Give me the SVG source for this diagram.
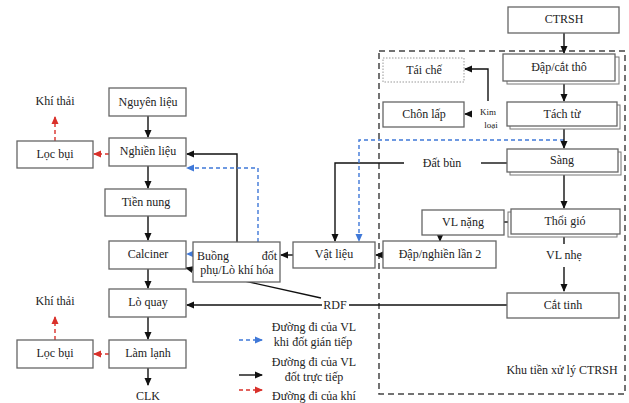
<svg xmlns="http://www.w3.org/2000/svg" width="629" height="403" viewBox="0 0 629 403" font-family="'Liberation Serif', 'DejaVu Serif', serif">
<defs>
<style>
text{font-family:'Liberation Serif','DejaVu Serif',serif;font-size:12px;fill:#222;text-anchor:middle;dominant-baseline:central}
.box{fill:#fff;stroke:#666;stroke-width:1.3}
.shadow{fill:#fff;stroke:#777;stroke-width:1}
.blk{fill:none;stroke:#111;stroke-width:1.4}
.blu{fill:none;stroke:#3f78d8;stroke-width:1.4;stroke-dasharray:4,3}
.red{fill:none;stroke:#d9302a;stroke-width:1.4;stroke-dasharray:4,3}
.small{font-size:9px}
</style>
<marker id="ab" markerWidth="8" markerHeight="8" refX="7" refY="4" orient="auto" markerUnits="userSpaceOnUse"><path d="M0,0.5 L8,4 L0,7.5 z" fill="#111"/></marker>
<marker id="au" markerWidth="8" markerHeight="8" refX="7" refY="4" orient="auto" markerUnits="userSpaceOnUse"><path d="M0,0.5 L8,4 L0,7.5 z" fill="#3f78d8"/></marker>
<marker id="ar" markerWidth="8" markerHeight="8" refX="7" refY="4" orient="auto" markerUnits="userSpaceOnUse"><path d="M0,0.5 L8,4 L0,7.5 z" fill="#d9302a"/></marker>
</defs>
<rect width="629" height="403" fill="#fff"/>

<g id="region">
<rect x="379" y="51" width="246" height="343" fill="none" stroke="#444" stroke-width="1.5" stroke-dasharray="6,4"/>
<text x="562" y="370">Khu tiền xử lý CTRSH</text>
</g>

<g id="connectors">
<path class="blk" d="M148,116 V137" marker-end="url(#ab)"/>
<path class="blk" d="M148,166 V188" marker-end="url(#ab)"/>
<path class="blk" d="M148,216 V240" marker-end="url(#ab)"/>
<path class="blk" d="M148,269 V288" marker-end="url(#ab)"/>
<path class="blk" d="M148,317 V339" marker-end="url(#ab)"/>
<path class="blk" d="M148,368 V385" marker-end="url(#ab)"/>
<path class="red" d="M109,154 H94" marker-end="url(#ar)"/>
<path class="red" d="M55,141 V117" marker-end="url(#ar)"/>
<path class="red" d="M109,354 H94" marker-end="url(#ar)"/>
<path class="red" d="M55,340 V317" marker-end="url(#ar)"/>
<path class="blk" d="M237,242 V154 H187" marker-end="url(#ab)"/>
<path class="blu" d="M258,242 V168 H187" marker-end="url(#au)"/>
<path class="blu" d="M193,254 H187" marker-end="url(#au)"/>
<path class="blk" d="M293,255 H281" marker-end="url(#ab)"/>
<path class="blk" d="M383,255 H376" marker-end="url(#ab)"/>
<path class="blk" d="M507,163 H481"/>
<path class="blk" d="M404,163 H335 V241" marker-end="url(#ab)"/>
<path class="blu" d="M564,140 H359 V241" marker-end="url(#au)"/>
<path class="blk" d="M564,33 V53" marker-end="url(#ab)"/>
<path class="blk" d="M564,81 V101" marker-end="url(#ab)"/>
<path class="blk" d="M564,126 V148" marker-end="url(#ab)"/>
<path class="blk" d="M564,172 V208" marker-end="url(#ab)"/>
<path class="blk" d="M564,234 V244"/>
<path class="blk" d="M564,267 V291" marker-end="url(#ab)"/>
<path class="blk" d="M504,222 H511"/>
<path class="blk" d="M440,235 V241" marker-end="url(#ab)"/>
<path class="blk" d="M488,101 V69 H465" marker-end="url(#ab)"/>
<path class="blk" d="M472,114 H465" marker-end="url(#ab)"/>
<path class="blk" d="M507,305 H349"/>
<path class="blk" d="M322,305 H187" marker-end="url(#ab)"/>
<path class="blk" d="M321,298 L186,268" marker-end="url(#ab)"/>
<path class="blu" d="M239,340 H262" marker-end="url(#au)"/>
<path class="blk" d="M239,375 H262" marker-end="url(#ab)"/>
<path class="red" d="M239,390 H262" marker-end="url(#ar)"/>
</g>

<g id="n-nguyenlieu"><rect class="box" x="109" y="88" width="77" height="28"/><text x="148" y="102">Nguyên liệu</text></g>
<g id="n-nghienlieu"><rect class="box" x="109" y="138" width="77" height="28"/><text x="148" y="151">Nghiền liệu</text></g>
<g id="n-tiennung"><rect class="box" x="105" y="189" width="81" height="27"/><text x="146" y="202">Tiền nung</text></g>
<g id="n-calciner"><rect class="box" x="109" y="241" width="77" height="28"/><text x="148" y="254">Calciner</text></g>
<g id="n-loquay"><rect class="box" x="109" y="289" width="77" height="28"/><text x="148" y="302">Lò quay</text></g>
<g id="n-lamlanh"><rect class="box" x="109" y="340" width="77" height="28"/><text x="148" y="353">Làm lạnh</text></g>
<g id="n-clk"><text x="148" y="396">CLK</text></g>
<g id="n-locbui1"><rect class="box" x="17" y="141" width="76" height="27"/><text x="55" y="154">Lọc bụi</text></g>
<g id="n-khithai1"><text x="55" y="101">Khí thải</text></g>
<g id="n-locbui2"><rect class="box" x="17" y="340" width="76" height="28"/><text x="55" y="353">Lọc bụi</text></g>
<g id="n-khithai2"><text x="55" y="301">Khí thải</text></g>
<g id="n-buongdot"><rect class="box" x="193" y="242" width="87" height="40"/><text x="197" y="256" style="text-anchor:start">Buồng</text><text x="277" y="256" style="text-anchor:end">đốt</text><text x="237" y="270">phụ/Lò khí hóa</text></g>
<g id="n-vatlieu"><rect class="box" x="293" y="242" width="82" height="26"/><text x="334" y="254">Vật liệu</text></g>
<g id="n-dapnghien2"><rect class="box" x="383" y="241" width="113" height="27"/><text x="440" y="254">Đập/nghiền lần 2</text></g>
<g id="n-vlnang"><rect class="box" x="422" y="210" width="82" height="25"/><text x="463" y="222">VL nặng</text></g>
<g id="n-ctrsh"><rect class="box" x="508" y="7" width="111" height="26"/><text x="564" y="19">CTRSH</text></g>
<g id="n-dapcattho"><rect class="shadow" x="507" y="57" width="112" height="27"/><rect class="box" x="503" y="54" width="112" height="27"/><text x="559" y="67">Đập/cắt thô</text></g>
<g id="n-tachtu"><rect class="shadow" x="510" y="105" width="110" height="24"/><rect class="box" x="507" y="102" width="110" height="24"/><text x="562" y="114">Tách từ</text></g>
<g id="n-sang"><rect class="shadow" x="510" y="152" width="111" height="23"/><rect class="box" x="507" y="149" width="111" height="23"/><text x="562" y="160">Sàng</text></g>
<g id="n-thoigio"><rect class="shadow" x="508" y="212" width="109" height="25"/><rect class="box" x="511" y="209" width="109" height="25"/><text x="565" y="221">Thổi gió</text></g>
<g id="n-vlnhe"><text x="564" y="255">VL nhẹ</text></g>
<g id="n-cattinh"><rect class="box" x="507" y="293" width="112" height="25"/><text x="563" y="305">Cắt tinh</text></g>
<g id="n-taiche"><rect x="383" y="58" width="81" height="24" fill="#fff" stroke="#999" stroke-width="1" stroke-dasharray="1.5,1.5"/><text x="424" y="70">Tái chế</text></g>
<g id="n-chonlap"><rect class="box" x="383" y="102" width="81" height="25"/><text x="424" y="114">Chôn lấp</text></g>
<g id="n-kimloai"><text class="small" x="488" y="112">Kim</text><text class="small" x="491" y="125">loại</text></g>
<g id="n-datbun"><text x="442" y="163">Đất bùn</text></g>
<g id="n-rdf"><text x="335" y="305">RDF</text></g>

<g id="legend">
<text x="314" y="327">Đường đi của VL</text>
<text x="313" y="342">khi đốt gián tiếp</text>
<text x="314" y="362">Đường đi của VL</text>
<text x="314" y="377">đốt trực tiếp</text>
<text x="314" y="396">Đường đi của khí</text>
</g>
</svg>
